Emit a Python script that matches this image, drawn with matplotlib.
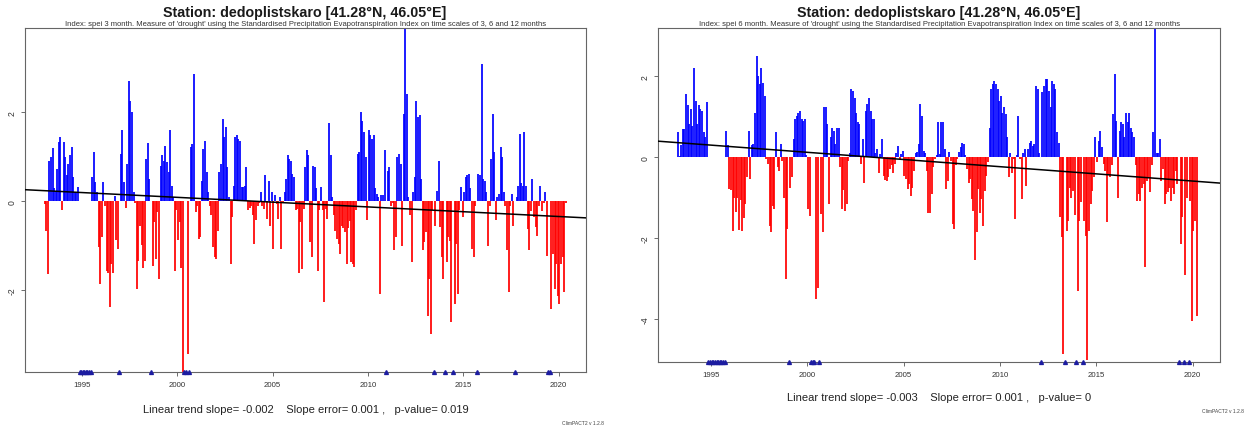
import numpy as np
import matplotlib
matplotlib.use("Agg")
import matplotlib.pyplot as plt

nan = np.nan

# ---------------- data ----------------
station_title = "Station: dedoplistskaro [41.28°N, 46.05°E]"
subtitle_3 = ("Index: spei 3 month. Measure of 'drought' using the Standardised "
              "Precipitation Evapotranspiration Index on time scales of 3, 6 and 12 months")
subtitle_6 = ("Index: spei 6 month. Measure of 'drought' using the Standardised "
              "Precipitation Evapotranspiration Index on time scales of 3, 6 and 12 months")
trend_text_3 = "Linear trend slope= -0.002    Slope error= 0.001 ,   p-value= 0.019"
trend_text_6 = "Linear trend slope= -0.003    Slope error= 0.001 ,   p-value= 0"
version_text = "ClimPACT2 v 1.2.8"

# SPEI-3 monthly values, starting January 1993
spei3_start_year, spei3_start_month = 1993, 1
spei3 = [
    -0.06, -0.66, -1.63, 0.91, 0.99, 1.2, 0.3, 0.2, 0.73, 1.33, 1.44, -0.2,          # 1993
    1.33, 0.99, 0.58, 0.84, 1.03, 1.21, 0.55, 0.2, 0.2, 0.33, nan, nan,               # 1994
    nan, nan, nan, nan, nan, nan, 0.54, 1.1, 0.43, 0.2, -1.03, -1.86,                 # 1995
    -0.81, 0.43, -0.1, -1.56, -1.6, -2.38, -1.41, -1.6, 0.12, -0.88, -1.07, nan,      # 1996
    1.06, 1.59, 0.43, -0.15, 0.84, 2.69, 2.26, 2.0, 0.2, -0.05, -1.96, -1.33,         # 1997
    -0.55, -0.98, -1.5, -1.33, 0.95, 1.3, 0.5, nan, -1.45, -0.47, -1.3, -0.25,        # 1998
    -1.75, 0.8, 1.03, 0.9, 1.25, 0.88, 0.65, 1.59, 0.35, 0.1, -1.56, -0.2,            # 1999
    -0.88, -0.47, -1.5, -3.85, nan, nan, -3.43, nan, 1.21, 1.28, 2.86, -0.25,         # 2000
    -0.1, -0.85, -0.8, 0.46, 1.18, 1.36, 0.65, 0.2, -0.1, -0.3, -1.03, -1.26,         # 2001
    -1.3, -0.66, 0.65, 0.84, 1.85, 1.44, 1.66, 0.76, 0.1, -1.41, -0.36, 0.35,         # 2002
    1.44, 1.48, 1.4, 1.36, 0.31, 0.31, 0.35, 0.76, -0.2, -0.15, -0.1, -0.3,           # 2003
    -0.96, -0.43, -0.1, -0.05, 0.2, -0.1, -0.17, 0.58, -0.4, 0.46, -0.55, 0.2,        # 2004
    -1.07, 0.15, -0.07, -0.4, 0.1, -1.07, -0.05, 0.2, 0.5, 1.03, 0.95, 0.91,          # 2005
    0.61, 0.54, -0.2, -0.17, -1.6, -0.47, -1.52, -0.17, 0.76, 1.14, 1.03, -0.92,      # 2006
    -1.26, 0.8, 0.76, 0.3, -1.56, -0.2, 0.31, -0.2, -2.27, -0.17, -0.4, 1.75,         # 2007
    1.03, 0.1, -0.3, -0.66, -0.85, -0.96, -1.18, -0.55, -0.6, -0.7, -1.41, -0.6,      # 2008
    -0.45, -1.37, -1.41, -1.48, -0.2, 1.06, 1.1, 2.0, 1.81, 1.55, 0.99, -0.43,        # 2009
    1.59, 1.48, 1.4, 1.48, 0.3, 0.16, 0.1, -2.08, 0.15, 0.15, 1.14, nan,              # 2010
    0.69, 0.76, -0.1, -0.05, -1.1, -0.81, 0.99, 1.06, 0.84, -1.0, 1.96, 3.95,         # 2011
    2.4, 0.1, -0.3, -1.37, 0.2, 0.54, 2.26, 1.89, 1.93, 0.5, -1.1, -0.92,             # 2012
    -0.7, -2.57, -1.75, -2.98, -0.2, nan, -0.55, 0.24, 0.91, -0.58, -1.26, -1.75,     # 2013
    nan, -1.37, -0.8, -0.9, -2.72, nan, -2.3, -0.95, -2.08, -0.2, 0.31, -0.36,        # 2014
    0.2, 0.54, 0.58, 0.61, 0.3, -1.07, -1.26, -0.1, nan, 0.61, 0.6, 3.09,             # 2015
    0.5, 0.46, 0.2, -1.0, -0.1, 0.95, 1.96, 1.1, -0.43, 0.1, 0.16, 1.21,              # 2016
    0.99, 0.2, -0.1, -1.1, -2.04, -0.1, 0.16, -0.55, nan, 0.1, 0.35, 1.51,            # 2017
    0.4, 0.35, 1.55, 0.35, -0.62, -1.1, -0.22, 0.5, -0.36, -0.58, -0.77, -0.1,        # 2018
    0.35, -0.22, -0.05, 0.2, -1.22, nan, nan, -2.42, -1.18, -1.97, -1.41, -2.12,      # 2019
    -2.3, -1.41, -1.26, -2.04, -0.05,                                                 # 2020
]

# SPEI-6 monthly values, starting April 1993
spei6_start_year, spei6_start_month = 1993, 4
spei6 = [
    0.61, 0.02, 0.3, 0.69, 0.69, 1.56, 1.3, 0.81, 1.18,                               # 1993
    0.77, 2.21, 1.39, 0.81, 1.3, 1.18, 1.14, 0.61, 0.49, 1.35, nan, nan,              # 1994
    nan, nan, nan, nan, nan, nan, nan, nan, nan, 0.65, 0.3, -0.78,                    # 1995
    -0.8, -1.82, -1.0, -1.35, -1.0, -1.8, -1.05, -1.82, -1.5, -1.15, -0.5, 0.65,      # 1996
    -0.54, 0.3, 0.32, 1.1, 2.5, 2.0, 1.8, 2.21, 1.84, 1.51, -0.05, -0.17,             # 1997
    -1.69, -1.86, -1.2, -1.28, 0.61, -0.25, -0.34, 0.32, -0.1, -1.0, -3.0, -1.78,     # 1998
    nan, -0.75, -0.5, 0.44, 0.94, 1.02, 1.1, 1.13, 0.94, 0.9, 0.94, 0.05,             # 1999
    -1.28, -1.45, nan, nan, nan, -3.5, -3.24, nan, -1.4, -1.86, 1.23, 1.23,           # 2000
    0.81, -1.16, 0.5, 0.73, 0.65, 0.32, 0.73, 0.73, -0.25, -1.28, -0.8, -1.33,        # 2001
    -1.16, -0.1, 0.1, 1.68, 1.64, 1.47, 1.1, 0.86, 0.81, -0.17, 0.44, -0.63,          # 2002
    1.14, 1.31, 1.47, 1.14, 0.94, 0.94, 0.1, 0.2, -0.38, 0.07, 0.44, -0.46,           # 2003
    -0.56, -0.58, -0.5, -0.3, -0.2, -0.38, -0.17, 0.1, 0.28, -0.05, 0.07, 0.15,       # 2004
    -0.46, -0.55, -0.79, -0.66, -0.95, -0.75, -0.34, 0.1, 0.12, 0.32, 1.31, 1.02,     # 2005
    0.16, 0.1, -0.34, -1.37, -1.37, -0.91, -0.25, -0.05, 0.05, 0.86, 0.07, 0.86,      # 2006
    0.86, 0.2, -0.79, -0.58, 0.12, -0.1, -1.65, -1.78, -0.2, -0.05, 0.12, 0.24,       # 2007
    0.36, 0.32, 0.05, -0.3, -0.63, -0.55, -1.04, -1.33, -2.55, -1.86, -0.79, -1.37,   # 2008
    -1.04, -1.7, -0.83, -0.46, -0.13, 0.73, 1.68, 1.8, 1.88, 1.8, 1.68, 1.39,         # 2009
    1.51, 1.1, 1.23, 1.06, 0.49, -0.5, 0.1, -0.38, -0.05, -1.53, 0.05, 1.02,          # 2010
    -0.05, -1.04, 0.1, 0.2, -0.71, 0.2, 0.36, 0.4, 0.28, 0.32, 1.76, 1.68,            # 2011
    0.1, nan, 1.6, 1.76, 1.93, 1.93, 1.64, 1.23, 1.89, 1.8, 1.68, 0.61,               # 2012
    0.36, -1.49, -1.98, -4.86, nan, -1.82, -1.57, -0.75, -1.0, -0.83, -1.44, nan,     # 2013
    -3.3, -1.57, -1.12, nan, -1.57, -1.94, -5.0, -1.82, -1.16, -0.83, -0.5, 0.49,     # 2014
    -0.13, 0.4, 0.65, 0.24, -0.17, -0.34, -1.61, -0.42, -0.5, -0.2, 1.06, 2.05,       # 2015
    0.9, -1.0, 0.65, 0.86, 0.81, 0.49, 1.1, 0.86, 1.1, 0.73, 0.61, 0.49,              # 2016
    -0.2, -1.08, -0.91, -1.08, -0.75, -0.66, -2.72, -0.58, -0.5, -0.87, -0.2, 0.61,   # 2017
    3.2, 0.1, 0.1, 0.44, -0.58, -0.3, -1.16, -0.91, -0.87, -0.75, -1.08, -0.75,       # 2018
    -0.91, -0.34, -0.66, nan, -2.15, -1.49, nan, -2.9, -1.0, nan, -1.08, -4.04,       # 2019
    -1.82, -1.57, -3.92,                                                              # 2020
]

# linear trend lines (value at reference year, slope per year)
trend3_ref_year, trend3_value, trend3_slope = 1992.0, 0.26, -0.0215
trend6_ref_year, trend6_value, trend6_slope = 1992.1, 0.40, -0.0355

x_ticks = [1995, 2000, 2005, 2010, 2015, 2020]
y_ticks_3 = [-2, 0, 2]
y_ticks_6 = [-4, -2, 0, 2]
xlim_3, ylim_3 = (1992.03, 2021.45), (-3.84, 3.89)
xlim_6, ylim_6 = (1992.27, 2021.42), (-5.06, 3.19)

# ---------------- drawing ----------------
plt.rcParams['font.family'] = ['Liberation Sans', 'DejaVu Sans']
W, H = 1250, 435
fig = plt.figure(figsize=(W / 100, H / 100), dpi=100)


def px_rect(x0, y0, x1, y1):
    return [x0 / W, 1 - y1 / H, (x1 - x0) / W, (y1 - y0) / H]


def draw_panel(rect, values, start_year, start_month, xlim, ylim, yticks,
               trend, subtitle, trend_text, title_xy, sub_y, trend_y, ver_xy):
    ax = fig.add_axes(rect)
    v = np.array(values, dtype=float)
    k = np.arange(len(v)) + (start_month - 1)
    t = start_year + (k + 0.5) / 12.0
    pos = np.where(v >= 0, v, np.nan)
    neg = np.where(v < 0, v, np.nan)
    ax.vlines(t, 0, pos, colors='#0000ff', linewidth=1.25)
    ax.vlines(t, 0, neg, colors='#ff0000', linewidth=1.25)
    miss = np.isnan(v)
    ax.plot(t[miss], np.full(miss.sum(), ylim[0]), linestyle='none', marker='^',
            markersize=2.8, color='#1c1ca0', clip_on=False, zorder=5)
    ref, val, slope = trend
    xx = np.array(xlim)
    ax.plot(xx, val + slope * (xx - ref), color='black', linewidth=1.1, zorder=4)
    ax.set_xlim(*xlim)
    ax.set_ylim(*ylim)
    ax.set_xticks(x_ticks)
    ax.set_xticklabels([str(x) for x in x_ticks])
    ax.set_yticks(yticks)
    ax.set_yticklabels([str(y) for y in yticks], rotation=90, va='center')
    ax.tick_params(axis='x', labelsize=5.6)
    ax.tick_params(axis='y', labelsize=6.2)
    ax.tick_params(axis='both', colors='#555555', labelcolor='#333333',
                   length=3, width=0.6, pad=3.5)
    for s in ax.spines.values():
        s.set_color('#666666')
        s.set_linewidth(0.8)
    cx = rect[0] + rect[2] / 2
    fig.text(title_xy[0] / W, 1 - title_xy[1] / H, station_title, ha='center',
             va='center', fontsize=10.3, fontweight='bold', color='#1a1a1a')
    fig.text(cx, 1 - sub_y / H, subtitle, ha='center', va='center',
             fontsize=5.5, color='#333333')
    fig.text(cx, 1 - trend_y / H, trend_text, ha='center', va='center',
             fontsize=8.0, color='#222222')
    fig.text(ver_xy[0] / W, 1 - ver_xy[1] / H, version_text, ha='right', va='center',
             fontsize=3.6, color='#444444')
    return ax


draw_panel(px_rect(25.3, 29, 586.3, 373.3), spei3, spei3_start_year, spei3_start_month,
           xlim_3, ylim_3, y_ticks_3,
           (trend3_ref_year, trend3_value, trend3_slope), subtitle_3, trend_text_3,
           (305, 13), 24, 410, (604, 424))
draw_panel(px_rect(658.3, 29, 1220, 363), spei6, spei6_start_year, spei6_start_month,
           xlim_6, ylim_6, y_ticks_6,
           (trend6_ref_year, trend6_value, trend6_slope), subtitle_6, trend_text_6,
           (939, 13), 24, 398, (1244, 412))

fig.savefig("out.png", dpi=100)
